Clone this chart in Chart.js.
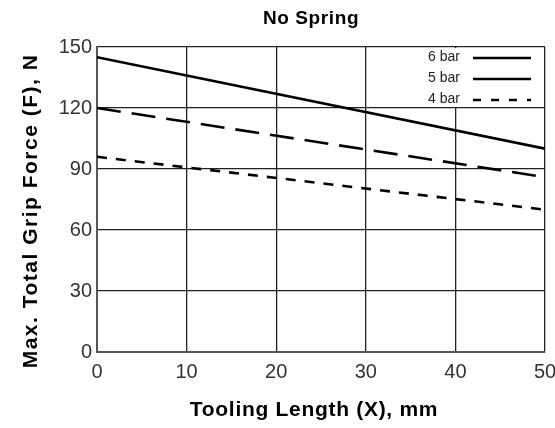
<!DOCTYPE html>
<html>
<head>
<meta charset="utf-8">
<script src="https://cdn.jsdelivr.net/npm/chart.js@4.4.1/dist/chart.umd.min.js"></script>
<style>
  html, body { margin: 0; padding: 0; background: #fff; }
  #wrap { width: 555px; height: 428px; }
</style>
</head>
<body>
<div id="wrap"><canvas id="c" width="555" height="428"></canvas></div>
<script>
// ---- data ----
const xValues = [0, 50];
const bar6 = [145, 100];
const bar5 = [120, 86];
const bar4 = [96, 70];
const seriesLabels = ['6 bar', '5 bar', '4 bar'];
const xTickValues = [0, 10, 20, 30, 40, 50];
const yTickValues = [0, 30, 60, 90, 120, 150];
const chartTitle = 'No Spring';
const xTitle = 'Tooling Length (X), mm';
const yTitle = 'Max. Total Grip Force (F), N';

// ---- styles ----
const FONT = "'Liberation Sans', Arial, Helvetica, sans-serif";
const seriesDash = [[], [24, 11], [10, 9]];
const legendDash = [[], [], [8, 10]];
const seriesArrays = [bar6, bar5, bar4];

const datasets = seriesArrays.map((arr, i) => ({
  label: seriesLabels[i],
  data: xValues.map((x, j) => ({ x: x, y: arr[j] })),
  borderColor: '#000',
  borderWidth: 2.6,
  borderDash: seriesDash[i],
  pointRadius: 0,
  fill: false,
  tension: 0
}));

const textPlugin = {
  id: 'texts',
  beforeDatasetsDraw(chart) {
    const ctx = chart.ctx;
    const a = chart.chartArea;
    const yS = chart.scales.y;
    const boxL = a.right - 160;
    const boxB = yS.getPixelForValue(120);
    ctx.save();
    ctx.fillStyle = '#fff';
    ctx.fillRect(boxL, a.top + 1, a.right - boxL - 1, boxB - a.top - 2);
    ctx.font = '14px ' + FONT;
    ctx.fillStyle = '#222';
    ctx.textAlign = 'right';
    ctx.textBaseline = 'middle';
    seriesLabels.forEach((lab, i) => {
      const yy = a.top + 10 + i * 21;
      ctx.fillText(lab, a.right - 85, yy);
      ctx.beginPath();
      ctx.setLineDash(legendDash[i]);
      ctx.lineWidth = 2.4;
      ctx.strokeStyle = '#000';
      ctx.moveTo(a.right - 72, yy + 1);
      ctx.lineTo(a.right - 14, yy + 1);
      ctx.stroke();
    });
    ctx.restore();
  },
  afterDraw(chart) {
    const ctx = chart.ctx;
    ctx.save();
    ctx.fillStyle = '#000';
    ctx.textAlign = 'center';
    ctx.textBaseline = 'middle';
    ctx.font = 'bold 19px ' + FONT;
    ctx.letterSpacing = '0.6px';
    ctx.fillText(chartTitle, 311, 19);
    ctx.font = 'bold 21px ' + FONT;
    ctx.letterSpacing = '0.7px';
    ctx.fillText(xTitle, 314, 410);
    ctx.translate(31, 211);
    ctx.rotate(-Math.PI / 2);
    ctx.font = 'bold 21px ' + FONT;
    ctx.letterSpacing = '1.5px';
    ctx.fillText(yTitle, 0, 0);
    ctx.restore();
  }
};

new Chart(document.getElementById('c'), {
  type: 'line',
  data: { datasets: datasets },
  options: {
    responsive: false,
    animation: false,
    devicePixelRatio: 1,
    layout: { padding: { top: 47, right: 10, left: 0, bottom: 0 } },
    plugins: { legend: { display: false }, title: { display: false }, tooltip: { enabled: false } },
    scales: {
      x: {
        type: 'linear',
        min: 0, max: 50,
        afterBuildTicks: (s) => { s.ticks = xTickValues.map(v => ({ value: v })); },
        afterFit: (s) => { s.height = 76; s.paddingRight = 0; s.paddingLeft = 0; },
        grid: { color: '#222', lineWidth: 1.3, drawTicks: false },
        border: { color: '#555', width: 2 },
        ticks: { color: '#333', font: { family: FONT, size: 20 }, padding: 8, maxRotation: 0 }
      },
      y: {
        type: 'linear',
        min: 0, max: 150,
        afterBuildTicks: (s) => { s.ticks = yTickValues.map(v => ({ value: v })); },
        afterFit: (s) => { s.width = 97; s.paddingTop = 0; s.paddingBottom = 0; },
        grid: { color: '#222', lineWidth: 1.3, drawTicks: false },
        border: { color: '#555', width: 2 },
        ticks: { color: '#333', font: { family: FONT, size: 20 }, padding: 5 }
      }
    }
  },
  plugins: [textPlugin]
});
</script>
</body>
</html>
